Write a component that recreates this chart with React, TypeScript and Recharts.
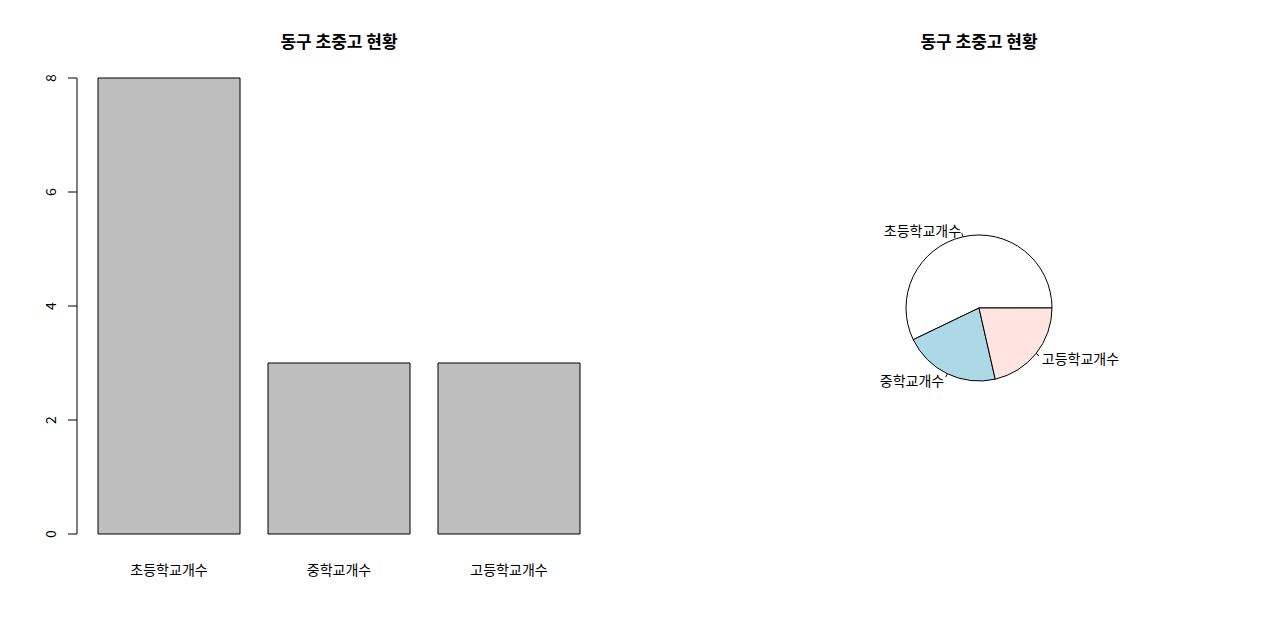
import React from 'react';
import { BarChart, Bar, XAxis, YAxis, PieChart, Pie, Cell } from 'recharts';

const title = '동구 초중고 현황';
const categories = ['초등학교개수', '중학교개수', '고등학교개수'];
const counts = [8, 3, 3];
const yTicks = [0, 2, 4, 6, 8];
const pieColors = ['#FFFFFF', '#ADD8E6', '#FFE4E1'];

const data = categories.map((name, i) => ({ name, value: counts[i] }));

const FONT = '"Noto Sans CJK KR", "DejaVu Sans", sans-serif';
const RAD = Math.PI / 180;

const YTick = (props: any) => {
  const { x, y, payload } = props;
  const tx = x - 12;
  return (
    <text
      x={tx}
      y={y}
      textAnchor="middle"
      transform={`rotate(-90, ${tx}, ${y})`}
      fontSize={14}
      fontFamily={FONT}
      fill="#000"
    >
      {payload.value}
    </text>
  );
};

const XTick = (props: any) => {
  const { x, payload } = props;
  return (
    <text x={x} y={569} textAnchor="middle" dominantBaseline="central" fontSize={14} fontFamily={FONT} fill="#000">
      {payload.value}
    </text>
  );
};

const PieLabel = (props: any) => {
  const { cx, cy, midAngle, outerRadius, name } = props;
  const c = Math.cos(midAngle * RAD);
  const s = Math.sin(midAngle * RAD);
  const r = outerRadius;
  return (
    <g>
      <line x1={cx + r * c} y1={cy - r * s} x2={cx + 1.05 * r * c} y2={cy - 1.05 * r * s} stroke="#000" strokeWidth={1} />
      <text
        x={cx + 1.1 * r * c}
        y={cy - 1.1 * r * s}
        textAnchor={c < 0 ? 'end' : 'start'}
        dominantBaseline="central"
        fontSize={14}
        fontFamily={FONT}
        fill="#000"
      >
        {name}
      </text>
    </g>
  );
};

const titleStyle: React.CSSProperties = {
  position: 'absolute',
  top: 29,
  width: 640,
  textAlign: 'center',
  fontFamily: FONT,
  fontWeight: 'bold',
  fontSize: 17,
  lineHeight: '24px',
  color: '#000',
};

export default function App() {
  return (
    <div style={{ position: 'absolute', left: 0, top: 0, width: 1280, height: 637, background: '#fff' }}>
      <div style={{ ...titleStyle, left: 19 }}>{title}</div>
      <div style={{ ...titleStyle, left: 659 }}>{title}</div>

      <div style={{ position: 'absolute', left: 0, top: 0 }}>
        <BarChart
          width={640}
          height={637}
          data={data}
          margin={{ top: 78, bottom: 63, left: 37, right: 41 }}
          barCategoryGap={14}
        >
          <XAxis
            dataKey="name"
            axisLine={false}
            tickLine={false}
            height={40}
            padding={{ left: 7, right: 5 }}
            tick={<XTick />}
          />
          <YAxis
            width={40}
            domain={[0, 8]}
            ticks={yTicks}
            tickSize={9}
            tickMargin={0}
            axisLine={{ stroke: '#000' }}
            tickLine={{ stroke: '#000' }}
            tick={<YTick />}
          />
          <Bar dataKey="value" fill="#BEBEBE" stroke="#000" strokeWidth={1} isAnimationActive={false} />
        </BarChart>
      </div>

      <div style={{ position: 'absolute', left: 640, top: 0 }}>
        <PieChart width={640} height={637} margin={{ top: 0, right: 0, bottom: 0, left: 0 }}>
          <Pie
            data={data}
            dataKey="value"
            nameKey="name"
            cx={339}
            cy={308}
            outerRadius={73}
            startAngle={0}
            endAngle={360}
            stroke="#000"
            strokeWidth={1}
            label={PieLabel}
            labelLine={false}
            isAnimationActive={false}
          >
            {data.map((d, i) => (
              <Cell key={d.name} fill={pieColors[i]} />
            ))}
          </Pie>
        </PieChart>
      </div>
    </div>
  );
}
